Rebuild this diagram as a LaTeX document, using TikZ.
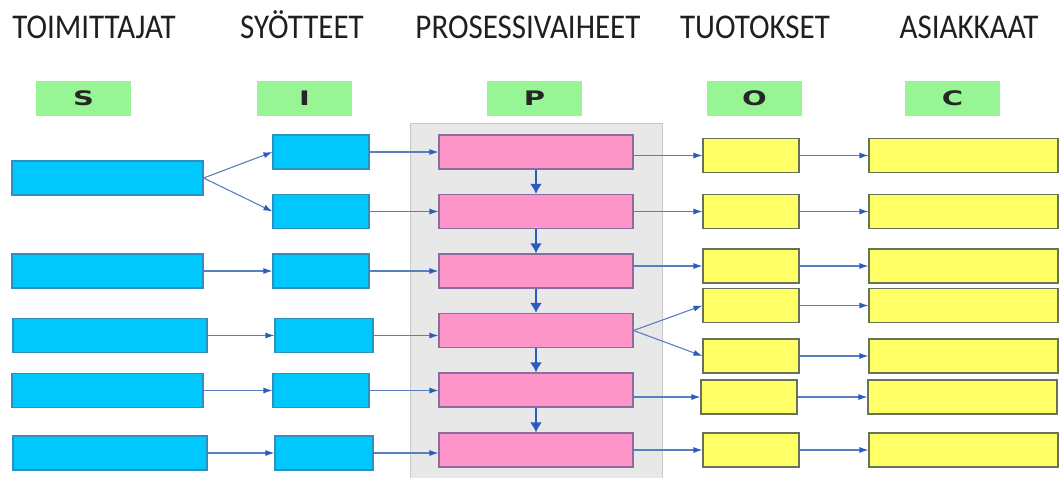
\documentclass[tikz,border=0pt]{standalone}
\usepackage{fontspec}
\usepackage{graphicx}
\setmainfont{Carlito}
\newfontfamily\letterfont{DejaVu Sans}
\usetikzlibrary{arrows.meta}

\definecolor{supfill}{HTML}{00C8FC}
\definecolor{supedge}{HTML}{2E8FC0}
\definecolor{procfill}{HTML}{FF96CA}
\definecolor{procedge}{HTML}{8A6C9E}
\definecolor{outfill}{HTML}{FFFF66}
\definecolor{outedge}{HTML}{66735A}
\definecolor{tagfill}{HTML}{98F596}
\definecolor{panelfill}{HTML}{E8E8E8}
\definecolor{paneledge}{HTML}{C8C8C8}
\definecolor{linkline}{HTML}{5A7FBE}
\definecolor{linktip}{HTML}{2A5CC0}

\tikzset{
  cell/.style={rectangle, inner sep=0pt, line width=1.1pt, minimum height=34pt},
  supbox/.style={cell, fill=supfill, draw=supedge},
  inbox/.style={cell, fill=supfill, draw=supedge, minimum width=96pt},
  procbox/.style={cell, fill=procfill, draw=procedge, minimum width=194pt},
  outbox/.style={cell, fill=outfill, draw=outedge, minimum width=96pt},
  custbox/.style={cell, fill=outfill, draw=outedge, minimum width=189pt},
  tagbox/.style={rectangle, inner sep=0pt, fill=tagfill, minimum width=95pt, minimum height=35pt,
    text=black!85, font=\letterfont\bfseries\fontsize{20}{20}\selectfont},
  heading/.style={anchor=base, inner sep=0pt, text=black!88,
    font=\fontsize{31}{31}\selectfont},
  link/.style={draw=linkline, line width=1.1pt,
    -{Latex[length=9pt,width=6pt,color=linktip]}},
  flow/.style={draw=linktip, line width=2pt,
    -{Latex[length=10pt,width=12pt,color=linktip]}}
}

\newcommand{\wideletter}[1]{\scalebox{1.45}[1]{#1}}
\newcommand{\tallhead}[1]{\scalebox{1}[1.12]{#1}}

\begin{document}
\begin{tikzpicture}[x=1pt,y=-1pt]
\useasboundingbox (0,0) rectangle (1059,477);
\fill[white] (0,0) rectangle (1059,477);

% column headings
\node[heading] (hS) at (94,38)  {\tallhead{TOIMITTAJAT}};
\node[heading] (hI) at (302,38) {\tallhead{SYÖTTEET}};
\node[heading] (hP) at (528,38) {\tallhead{PROSESSIVAIHEET}};
\node[heading] (hO) at (755,38) {\tallhead{TUOTOKSET}};
\node[heading] (hC) at (969,38) {\tallhead{ASIAKKAAT}};

% SIPOC letter tags
\node[tagbox] (tS) at (83.5,98.5)  {\wideletter{S}};
\node[tagbox] (tI) at (304.5,98.5) {\wideletter{I}};
\node[tagbox] (tP) at (534.5,98.5) {\wideletter{P}};
\node[tagbox] (tO) at (754.5,98.5) {\wideletter{O}};
\node[tagbox] (tC) at (952.5,98.5) {\wideletter{C}};

% process panel
\node[rectangle, inner sep=0pt, fill=panelfill, draw=paneledge, line width=1pt,
      minimum width=252pt, minimum height=360pt, anchor=north west] (panel) at (410,123) {};

% suppliers
\node[supbox, minimum width=191pt] (s1) at (107.5,178) {};
\node[supbox, minimum width=191pt] (s2) at (107.5,271) {};
\node[supbox, minimum width=194pt] (s3) at (110,335.5) {};
\node[supbox, minimum width=191pt] (s4) at (107.5,390.5) {};
\node[supbox, minimum width=194pt] (s5) at (110,453) {};

% inputs
\node[inbox] (i1) at (321,152) {};
\node[inbox] (i2) at (321,211.5) {};
\node[inbox] (i3) at (321,271) {};
\node[inbox, minimum width=98pt] (i4) at (324,335.5) {};
\node[inbox] (i5) at (321,390.5) {};
\node[inbox, minimum width=98pt] (i6) at (324,453) {};

% process steps
\node[procbox] (p1) at (536,152) {};
\node[procbox] (p2) at (536,211.5) {};
\node[procbox] (p3) at (536,271) {};
\node[procbox] (p4) at (536,330.5) {};
\node[procbox] (p5) at (536,390) {};
\node[procbox] (p6) at (536,450) {};

% outputs
\node[outbox] (o1) at (751,155.5) {};
\node[outbox] (o2) at (751,211.5) {};
\node[outbox] (o3) at (751,266) {};
\node[outbox] (o4) at (751,305.5) {};
\node[outbox] (o5) at (751,356) {};
\node[outbox] (o6) at (749,397) {};
\node[outbox] (o7) at (751,450) {};

% customers
\node[custbox] (c1) at (963.5,155.5) {};
\node[custbox] (c2) at (963.5,211.5) {};
\node[custbox] (c3) at (963.5,266) {};
\node[custbox] (c4) at (963.5,305.5) {};
\node[custbox] (c5) at (963.5,356) {};
\node[custbox] (c6) at (962.5,397) {};
\node[custbox] (c7) at (963.5,450) {};

% suppliers -> inputs
\draw[link] (s1.east) -- (i1.west);
\draw[link] (s1.east) -- (i2.west);
\draw[link] (s2) -- (i3);
\draw[link] (s3) -- (i4);
\draw[link] (s4) -- (i5);
\draw[link] (s5) -- (i6);

% inputs -> process steps
\draw[link] (i1) -- (p1);
\draw[link] (i2) -- (p2);
\draw[link] (i3) -- (p3);
\draw[link] (i4) -- (i4 -| p4.west);
\draw[link] (i5) -- (i5 -| p5.west);
\draw[link] (i6) -- (i6 -| p6.west);

% process flow
\draw[flow] (p1) -- (p2);
\draw[flow] (p2) -- (p3);
\draw[flow] (p3) -- (p4);
\draw[flow] (p4) -- (p5);
\draw[flow] (p5) -- (p6);

% process steps -> outputs
\draw[link] (p1.east |- o1) -- (o1);
\draw[link] (p2) -- (o2);
\draw[link] (p3.east |- o3) -- (o3);
\draw[link] (p4.east) -- (o4.west);
\draw[link] (p4.east) -- (o5.west);
\draw[link] (p5.east |- o6) -- (o6);
\draw[link] (p6) -- (o7);

% outputs -> customers
\foreach \k in {1,...,7} {
  \draw[link] (o\k) -- (c\k);
}
\end{tikzpicture}
\end{document}
